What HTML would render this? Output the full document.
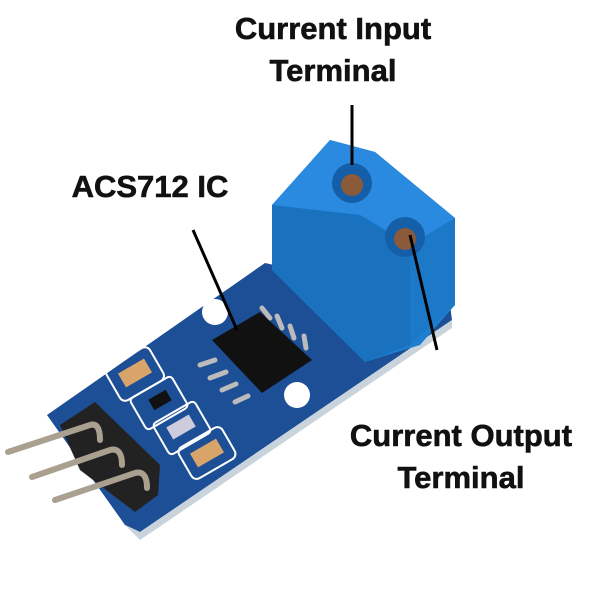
<!DOCTYPE html>
<html><head><style>
body{margin:0;background:#fff;width:600px;height:600px;overflow:hidden}
.t{position:absolute;font-family:"Liberation Sans",sans-serif;font-weight:bold;font-size:31px;color:#111;text-align:center;line-height:42px;-webkit-text-stroke:0.6px #111}
</style></head><body>
<svg width="600" height="600" style="position:absolute;left:0;top:0">
<!-- board -->
<polygon points="47,415 265,263 450,305 452,320 140,532 125,525" fill="#1d4f96"/>
<polygon points="125,525 140,532 452,320 452,328 140,540" fill="#c9d3dc"/>
<!-- holes -->
<circle cx="215" cy="312" r="13" fill="#fff"/>
<circle cx="297" cy="395" r="13" fill="#fff"/>
<!-- pads -->
<g stroke="#fff" stroke-width="2" fill="none">
<rect x="110" y="355" width="50" height="38" rx="6" transform="rotate(-30 135 374)"/>
<rect x="135" y="385" width="48" height="36" rx="4" transform="rotate(-30 159 403)"/>
<rect x="158" y="410" width="48" height="36" rx="4" transform="rotate(-30 182 428)"/>
<rect x="182" y="435" width="50" height="36" rx="6" transform="rotate(-30 207 453)"/>
</g>
<rect x="120" y="365" width="30" height="16" fill="#d9a46a" transform="rotate(-30 135 373)"/>
<rect x="150" y="394" width="20" height="12" fill="#111" transform="rotate(-30 160 400)"/>
<rect x="168" y="420" width="26" height="14" fill="#ccd" transform="rotate(-30 181 427)"/>
<rect x="192" y="445" width="30" height="16" fill="#d9a46a" transform="rotate(-30 207 453)"/>
<!-- chip pins -->
<g stroke="#bbb" stroke-width="5" stroke-linecap="round">
<line x1="270" y1="318" x2="262" y2="308"/><line x1="282" y1="328" x2="277" y2="316"/><line x1="294" y1="338" x2="290" y2="326"/><line x1="306" y1="348" x2="304" y2="336"/>
<line x1="215" y1="360" x2="200" y2="365"/><line x1="226" y1="372" x2="210" y2="378"/><line x1="236" y1="384" x2="222" y2="390"/><line x1="248" y1="396" x2="235" y2="402"/>
</g>
<polygon points="212,340 260,312 312,360 262,393" fill="#111"/>
<!-- terminal block -->
<polygon points="272,205 330,140 375,152 455,218 455,305 420,345 365,362 272,270" fill="#1e7fd0"/>
<polygon points="272,205 330,140 375,152 455,218 410,245 360,215" fill="#2a8ae0"/>
<polygon points="360,215 410,245 410,345 365,362 272,270 272,205" fill="#1a72bf"/>
<polygon points="410,245 455,218 455,305 410,345" fill="#1c79c8"/>
<circle cx="352" cy="183" r="20" fill="#155fa8"/>
<circle cx="352" cy="185" r="11" fill="#8a5a3a"/>
<circle cx="405" cy="237" r="20" fill="#155fa8"/>
<circle cx="405" cy="239" r="11" fill="#8a5a3a"/>
<!-- header + pins -->
<polygon points="60,425 95,402 160,465 158,495 135,512 80,470" fill="#222"/>
<g stroke="#a9a08f" stroke-width="6" stroke-linecap="round" fill="none">
<path d="M8,452 L90,425 Q100,422 100,440"/>
<path d="M32,477 L110,450 Q122,447 122,465"/>
<path d="M55,500 L135,473 Q147,470 147,488"/>
</g>
<!-- leader lines -->
<g stroke="#000" stroke-width="3">
<line x1="352" y1="105" x2="352" y2="165"/>
<line x1="193" y1="230" x2="237" y2="330"/>
<line x1="410" y1="235" x2="437" y2="350"/>
</g>
</svg>
<div class="t" style="left:183px;top:8px;width:300px">Current Input<br>Terminal</div>
<div class="t" style="left:50px;top:166px;width:200px">ACS712 IC</div>
<div class="t" style="left:311px;top:415px;width:300px">Current Output<br>Terminal</div>
</body></html>
